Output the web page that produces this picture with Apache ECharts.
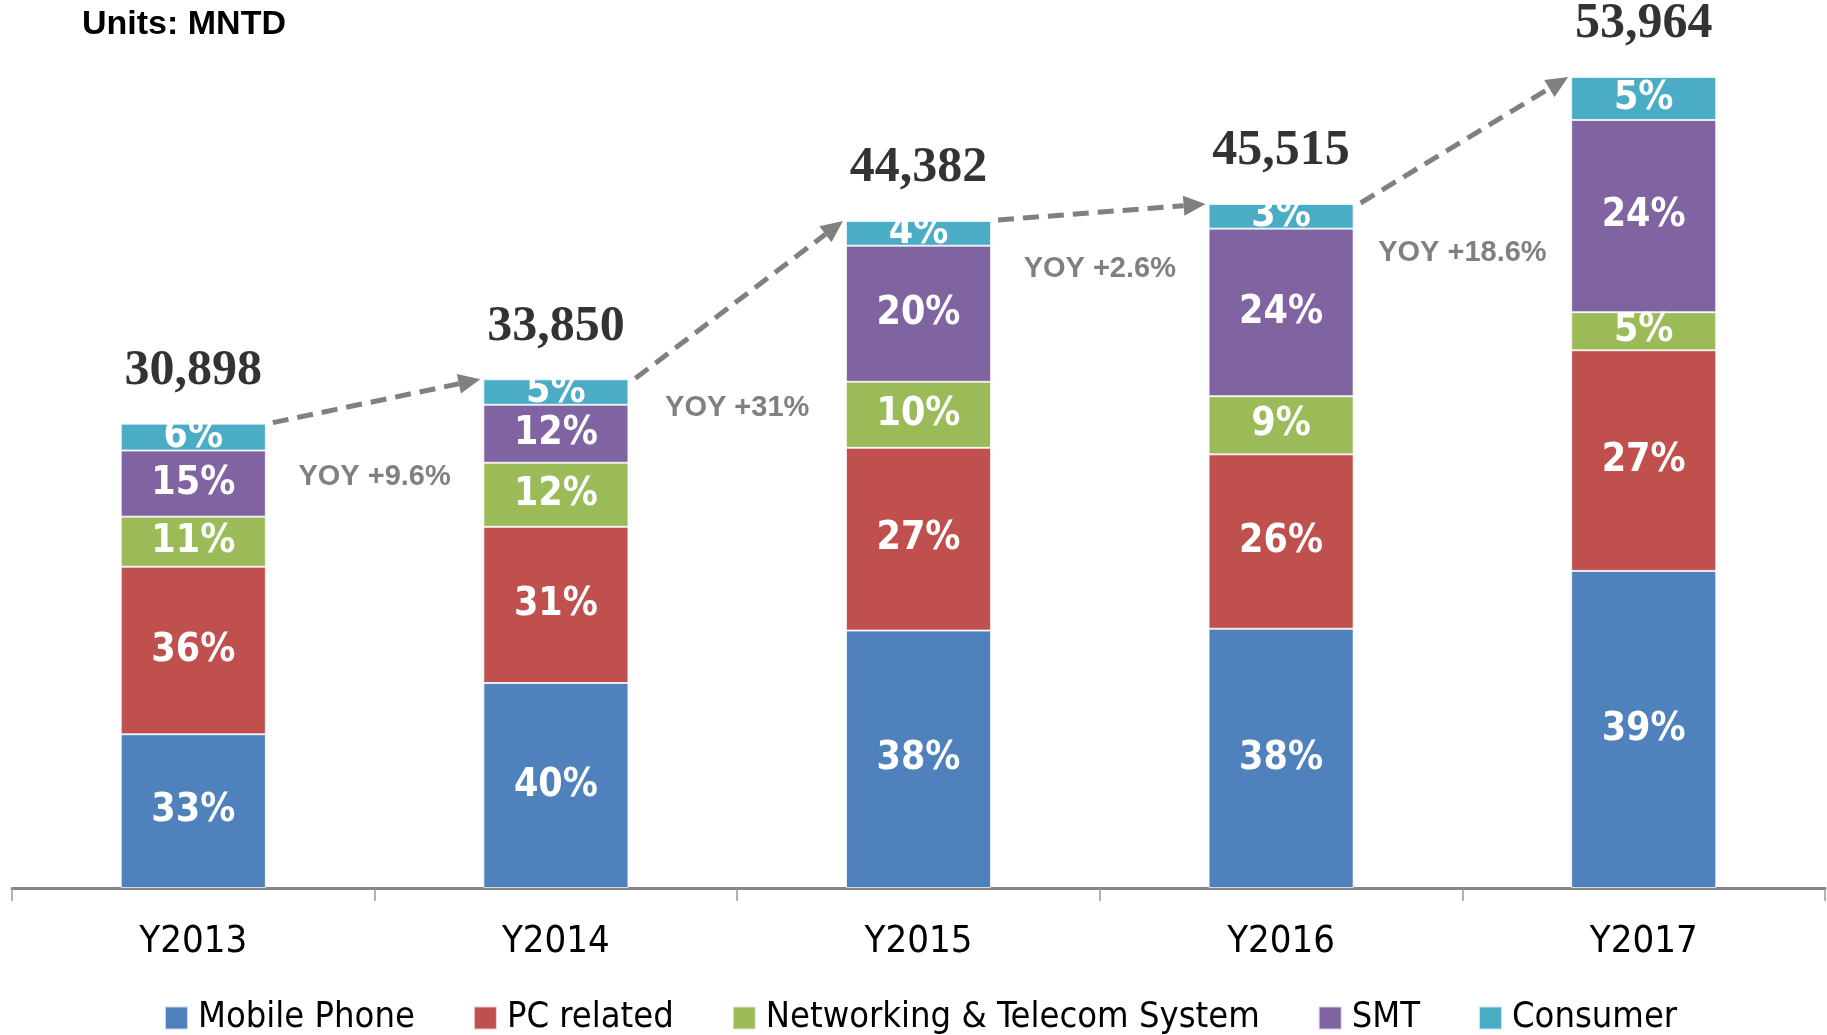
<!DOCTYPE html>
<html><head><meta charset="utf-8">
<script src="https://cdn.jsdelivr.net/npm/echarts@6/dist/echarts.min.js"></script>
<style>html,body{margin:0;padding:0;background:#fff}#c{width:1827px;height:1035px}</style>
</head><body><div id="c"></div>
<script>
const categories = ['Y2013', 'Y2014', 'Y2015', 'Y2016', 'Y2017'];
const totals = [30898, 33850, 44382, 45515, 53964];
const mobilePhone = [10230, 13640, 17130, 17250, 21100];
const pcRelated = [11150, 10390, 12160, 11605, 14680];
const networking = [3330, 4265, 4395, 3870, 2535];
const smt = [4400, 3860, 9055, 11150, 12790];
const consumer = [1790, 1690, 1640, 1640, 2860];
const mobilePct = [33, 40, 38, 38, 39];
const pcPct = [36, 31, 27, 26, 27];
const netPct = [11, 12, 10, 9, 5];
const smtPct = [15, 12, 20, 24, 24];
const consumerPct = [6, 5, 4, 3, 5];
const yoyLabels = ['YOY +9.6%', 'YOY +31%', 'YOY +2.6%', 'YOY +18.6%'];

const NARROW = "'Liberation Sans Narrow', 'Arial Narrow', 'DejaVu Sans Condensed', sans-serif";
const SERIF = "'Liberation Serif', 'DejaVu Serif', serif";
const ARIAL = "'Liberation Sans', Arial, sans-serif";
const yoyOffsets = [53, 29, 48, 49];

const sums = categories.map((c, i) => mobilePhone[i] + pcRelated[i] + networking[i] + smt[i] + consumer[i]);
const maxVal = Math.max(...sums, ...totals);

function barSeries(name, data, pct, color) {
  return {
    name, type: 'bar', stack: 'all', barWidth: '40%', data,
    itemStyle: { color, borderColor: 'rgba(255,255,255,0.7)', borderWidth: 1 },
    label: {
      show: true, position: 'inside', color: '#fff', fontWeight: 'bold',
      fontSize: 39, fontFamily: NARROW,
      formatter: p => pct[p.dataIndex] + '%'
    }
  };
}

const chart = echarts.init(document.getElementById('c'));
chart.setOption({
  animation: false,
  backgroundColor: '#fff',
  title: {
    text: 'Units: MNTD', left: 82, top: 8, padding: 0,
    textStyle: { fontSize: 34, fontWeight: 'bold', color: '#000', fontFamily: ARIAL }
  },
  grid: { left: 12, right: 2, top: 77, bottom: 147, containLabel: false },
  legend: {
    data: ['Mobile Phone', 'PC related', 'Networking & Telecom System', 'SMT', 'Consumer'],
    top: 1000, left: 164, padding: 0, icon: 'rect', itemWidth: 23, itemHeight: 23, itemGap: 58,
    textStyle: { fontSize: 36, color: '#000', fontFamily: NARROW, padding: [0, 0, 0, 5] }
  },
  xAxis: {
    type: 'category', data: categories,
    axisLine: { lineStyle: { color: '#878787', width: 3 } },
    axisTick: { show: true, length: 13, lineStyle: { color: '#999', width: 1.5 } },
    axisLabel: { fontSize: 38, color: '#000', margin: 35, fontFamily: NARROW }
  },
  yAxis: { type: 'value', show: false, min: 0, max: maxVal, splitLine: { show: false } },
  series: [
    barSeries('Mobile Phone', mobilePhone, mobilePct, '#4F81BD'),
    barSeries('PC related', pcRelated, pcPct, '#C0504D'),
    barSeries('Networking & Telecom System', networking, netPct, '#9BBB59'),
    barSeries('SMT', smt, smtPct, '#8064A2'),
    barSeries('Consumer', consumer, consumerPct, '#4BACC6'),
    {
      type: 'scatter', data: totals, symbolSize: 1, itemStyle: { color: 'rgba(0,0,0,0)' }, silent: true,
      label: {
        show: true, position: 'top', distance: 27, color: '#000', fontWeight: 'bold',
        fontSize: 50, fontFamily: SERIF,
        formatter: p => String(p.value).replace(/\B(?=(\d{3})+(?!\d))/g, ',')
      }
    },
    {
      type: 'custom', silent: true, z: 5,
      data: totals.slice(0, -1).map((t, i) => [i, t, totals[i + 1]]),
      encode: { x: 0, y: 1 },
      renderItem(params, api) {
        const i = api.value(0);
        const p0 = api.coord([i, api.value(1)]);
        const p1 = api.coord([i + 1, api.value(2)]);
        const band = api.size([1, 0])[0];
        const hw = band * 0.2;
        const sx = p0[0] + hw + 7, sy = p0[1] - 1;
        const ex = p1[0] - hw - 3, ey = p1[1];
        const ang = Math.atan2(ey - sy, ex - sx);
        const L = 22, W = 10;
        const bx = ex - L * Math.cos(ang), by = ey - L * Math.sin(ang);
        const nx = -Math.sin(ang), ny = Math.cos(ang);
        const yoyY = Math.max(p0[1], p1[1]) + yoyOffsets[i];
        const yoyX = (p0[0] + p1[0]) / 2;
        return {
          type: 'group', children: [
            { type: 'line', shape: { x1: sx, y1: sy, x2: bx, y2: by },
              style: { stroke: '#808080', lineWidth: 5, lineDash: [16, 9] } },
            { type: 'polygon', shape: { points: [[ex, ey], [bx + nx * W, by + ny * W], [bx - nx * W, by - ny * W]] },
              style: { fill: '#808080' } },
            { type: 'text', x: yoyX, y: yoyY,
              style: { text: yoyLabels[i], fill: '#808080', fontSize: 29, fontWeight: 'bold', fontFamily: ARIAL,
                       align: 'center', verticalAlign: 'middle' } }
          ]
        };
      }
    }
  ]
});
</script>
</body></html>
